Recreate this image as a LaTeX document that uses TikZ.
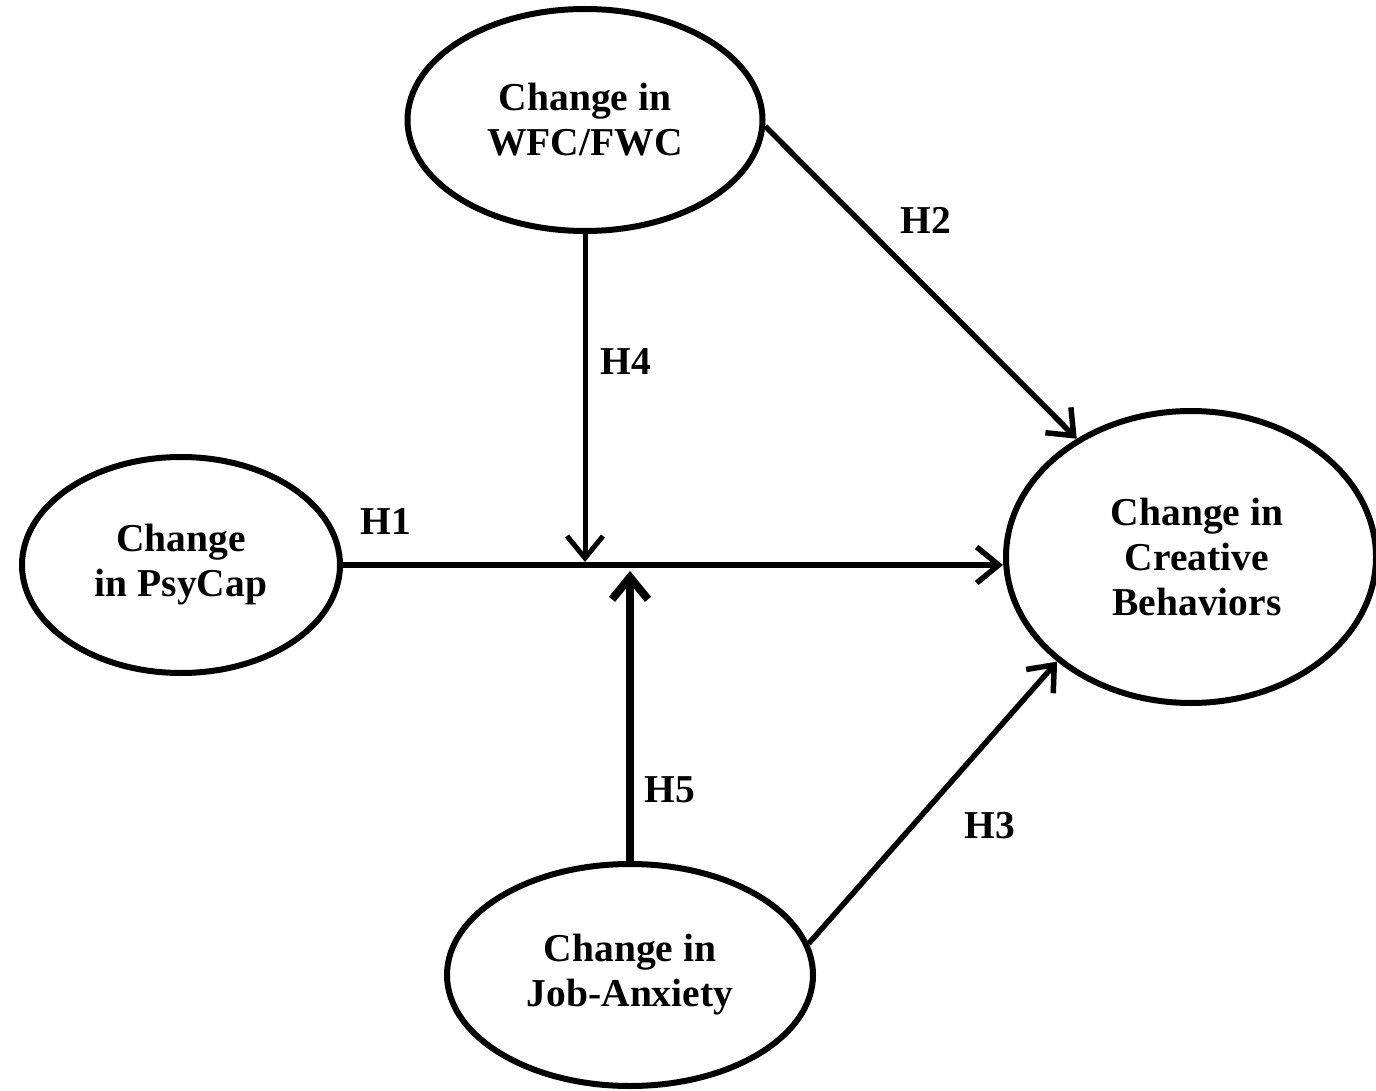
\documentclass[tikz,border=0pt]{standalone}
\usepackage{fontspec}
\setmainfont{Liberation Serif}
\usetikzlibrary{shapes.geometric,arrows.meta}
\begin{document}
\begin{tikzpicture}[x=1pt,y=-1pt,
  construct/.style={draw, line width=6pt, ellipse, inner sep=0pt, align=center,
    font=\fontsize{39.5}{45}\selectfont\bfseries},
  hyp/.style={inner sep=0pt, font=\fontsize{39.5}{45}\selectfont\bfseries},
  link/.style={line width=5.5pt, -{Straight Barb[length=22pt,width=36pt]}}
]
\useasboundingbox (0,0) rectangle (1376,1091);

% constructs
\node[construct, minimum width=355pt, minimum height=222pt] (wfc) at (585,120) {Change in\\WFC/FWC};
\node[construct, minimum width=318pt, minimum height=216pt] (psy) at (181,565) {Change\\in PsyCap};
\node[construct, minimum width=370pt, minimum height=292pt] (cre) at (1191,557) {\hspace*{12pt}Change in\\\hspace*{12pt}Creative\\\hspace*{12pt}Behaviors};
\node[construct, minimum width=366pt, minimum height=222pt] (anx) at (630,975) {Change in\\Job-Anxiety};

% moderator arrow tips on the main path
\coordinate (h4tip) at (585,562);
\coordinate (h5tip) at (630,571);

% paths
\draw[link] (psy.east) -- (cre.west |- psy.east);
\draw[link, line width=5pt] (wfc.south) -- (h4tip);
\draw[link, line width=8pt] (anx.north) -- (h5tip);
\draw[link] (wfc.-2) -- (cre.134);
\draw[link] (anx.10) -- (cre.218);

% hypothesis labels
\node[hyp] (l1) at (386,521) {H1};
\node[hyp] (l2) at (926,220) {H2};
\node[hyp] (l3) at (990,826) {H3};
\node[hyp] (l4) at (626,362) {H4};
\node[hyp] (l5) at (670,790) {H5};
\end{tikzpicture}
\end{document}
